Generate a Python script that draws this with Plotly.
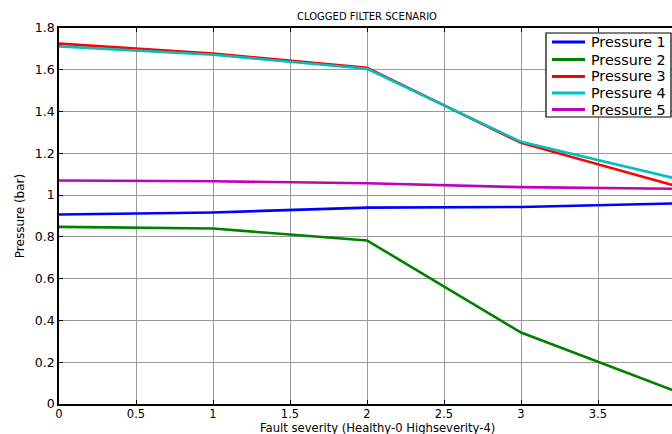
import plotly.graph_objects as go

severity = [0, 1, 2, 3, 4]
pressure_1 = [0.907, 0.917, 0.940, 0.943, 0.960]
pressure_2 = [0.848, 0.840, 0.783, 0.342, 0.062]
pressure_3 = [1.725, 1.678, 1.610, 1.250, 1.045]
pressure_4 = [1.712, 1.672, 1.605, 1.255, 1.080]
pressure_5 = [1.070, 1.066, 1.057, 1.038, 1.030]

x_ticks = [0, 0.5, 1, 1.5, 2, 2.5, 3, 3.5]
x_tick_labels = ["0", "0.5", "1", "1.5", "2", "2.5", "3", "3.5"]
y_ticks = [0, 0.2, 0.4, 0.6, 0.8, 1, 1.2, 1.4, 1.6, 1.8]
y_tick_labels = ["0", "0.2", "0.4", "0.6", "0.8", "1", "1.2", "1.4", "1.6", "1.8"]

series_names = ["Pressure 1", "Pressure 2", "Pressure 3", "Pressure 4", "Pressure 5"]
series_values = [pressure_1, pressure_2, pressure_3, pressure_4, pressure_5]
series_colors = ["#0000ff", "#008000", "#ff0000", "#00bfbf", "#bf00bf"]

W, H = 672, 434
ML, MR, MT, MB = 59, 0, 28, 30
PW, PH = W - ML - MR, H - MT - MB

FONT = "DejaVu Sans, Arial, sans-serif"


def px(x):
    """pixel x -> paper x"""
    return (x - ML) / PW


def py(y):
    """pixel y -> paper y"""
    return 1 - (y - MT) / PH


fig = go.Figure()
for name, vals, color in zip(series_names, series_values, series_colors):
    fig.add_trace(go.Scatter(x=severity, y=vals, mode="lines", name=name,
                             line=dict(color=color, width=2.6)))

# boxed legend in the upper right corner
shapes = [dict(type="rect", xref="paper", yref="paper",
               x0=px(546), x1=px(671), y0=py(117), y1=py(33),
               line=dict(color="#000", width=1.2), fillcolor="white", layer="above")]
notes = []
row_y = [42, 59.5, 76.5, 93, 109.5]
for name, color, ry in zip(series_names, series_colors, row_y):
    shapes.append(dict(type="line", xref="paper", yref="paper",
                       x0=px(552), x1=px(585), y0=py(ry), y1=py(ry),
                       line=dict(color=color, width=3), layer="above"))
    notes.append(dict(text=name, xref="paper", yref="paper",
                      x=px(589), y=py(ry), xanchor="left", yanchor="middle",
                      showarrow=False,
                      font=dict(family=FONT, size=14.3, color="#000")))

# x-axis caption sits along the bottom edge
notes.append(dict(text="Fault severity (Healthy-0 Highseverity-4)",
                  xref="paper", yref="paper", x=px(377), y=py(436),
                  xanchor="center", yanchor="bottom", showarrow=False,
                  borderpad=0,
                  font=dict(family=FONT, size=11.6, color="#000")))

fig.update_layout(
    width=W, height=H,
    margin=dict(l=ML, r=MR, t=MT, b=MB),
    paper_bgcolor="white", plot_bgcolor="white",
    font=dict(family=FONT, size=11.5, color="#000"),
    title=dict(text="CLOGGED FILTER SCENARIO", x=367 / W, xanchor="center",
               y=1 - 16 / H, yanchor="middle",
               font=dict(family=FONT, size=10, color="#000")),
    showlegend=False,
    shapes=shapes,
    annotations=notes,
)

fig.update_xaxes(
    range=[0, PW / 154.0], tickvals=x_ticks, ticktext=x_tick_labels,
    showgrid=True, gridcolor="#9a9a9a", gridwidth=1,
    showline=True, linecolor="#000", linewidth=1.5, mirror="ticks",
    ticks="inside", ticklen=4, tickcolor="#000", zeroline=False,
    tickfont=dict(size=11.5), ticklabelstandoff=-2,
)
fig.update_yaxes(
    range=[0, 1.8], tickvals=y_ticks, ticktext=y_tick_labels,
    showgrid=True, gridcolor="#9a9a9a", gridwidth=1,
    showline=True, linecolor="#000", linewidth=1.5, mirror=False,
    ticks="inside", ticklen=4, tickcolor="#000", zeroline=False,
    title=dict(text="Pressure (bar)", standoff=8,
               font=dict(family=FONT, size=12)),
    tickfont=dict(size=12.5),
)

fig.write_html("out.html")
